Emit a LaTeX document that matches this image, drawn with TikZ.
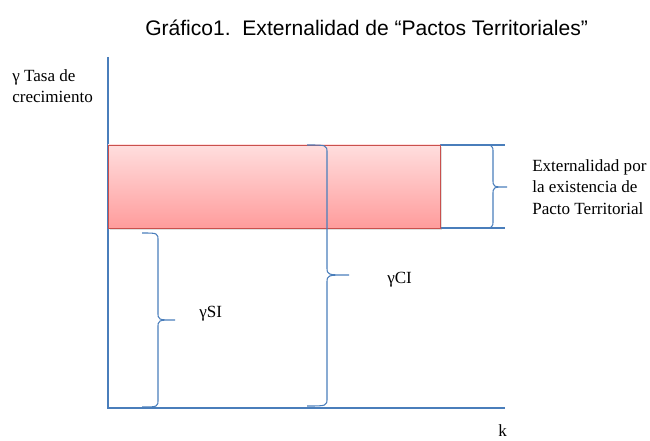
\documentclass[tikz,border=0pt]{standalone}
\usepackage{fontspec}
\setmainfont{Liberation Serif}
\newfontfamily\titlefont{Liberation Sans}
\usetikzlibrary{shadows}
\definecolor{axisblue}{HTML}{4A7EBB}
\definecolor{boxred}{HTML}{C9504D}
\definecolor{boxtop}{HTML}{FFDEDE}
\definecolor{boxbot}{HTML}{FF9C9C}
\tikzstyle{lbl}=[font=\fontsize{12.8}{16}\selectfont,inner sep=0pt]
\tikzstyle{axis}=[draw=axisblue,line width=1pt]
\tikzstyle{brc}=[draw=axisblue,line width=0.8pt]
% brace: x end, x spine, x tip, y top, y tip, y bottom
\newcommand{\ybrace}[6]{%
\draw[brc] (#1,#4) .. controls (#2,#4) .. (#2,#4+8) -- (#2,#5-8)
  .. controls (#2,#5) .. (#3,#5) .. controls (#2,#5) .. (#2,#5+8)
  -- (#2,#6-8) .. controls (#2,#6) .. (#1,#6);}

\begin{document}
\begin{tikzpicture}[x=0.75pt,y=-0.75pt]
\useasboundingbox (0,0) rectangle (650,441);
\coordinate (O) at (108,408);
\coordinate (Ytop) at (108,57);
\coordinate (Xend) at (505,408);
\coordinate (Hi) at (505,145);
\coordinate (Lo) at (505,228);
\draw[axis] (Ytop) -- (O) -- (Xend);
\draw[axis] (108,145) -- (Hi);
\draw[axis] (108,228) -- (Lo);
\draw[draw=boxred,line width=0.7pt,top color=boxtop,bottom color=boxbot,
  drop shadow={shadow xshift=1.5pt,shadow yshift=-1.5pt,opacity=0.25}]
  (108,145) rectangle (440,228);
\ybrace{480}{493}{507}{145}{187}{228}
\ybrace{307}{327}{349}{145}{275}{406}
\ybrace{142}{158}{175}{233}{320}{407}
\node[anchor=base west,inner sep=0pt,font=\titlefont\fontsize{15.8}{19}\selectfont] (title) at (145,36)
  {Gráfico1.\ \ Externalidad de “Pactos Territoriales”};
\node[lbl,anchor=north west,align=left] (ylab) at (12,69.5) {γ Tasa de\\crecimiento};
\node[lbl,anchor=base west] (xlab) at (498,437) {k};
\node[lbl,anchor=north west,align=left] (ext) at (532,159.5)
  {Externalidad por\\la existencia de\\Pacto Territorial};
\node[lbl,anchor=base west] (gsi) at (199,318) {γSI};
\node[lbl,anchor=base west] (gci) at (387,284) {γCI};
\end{tikzpicture}
\end{document}
